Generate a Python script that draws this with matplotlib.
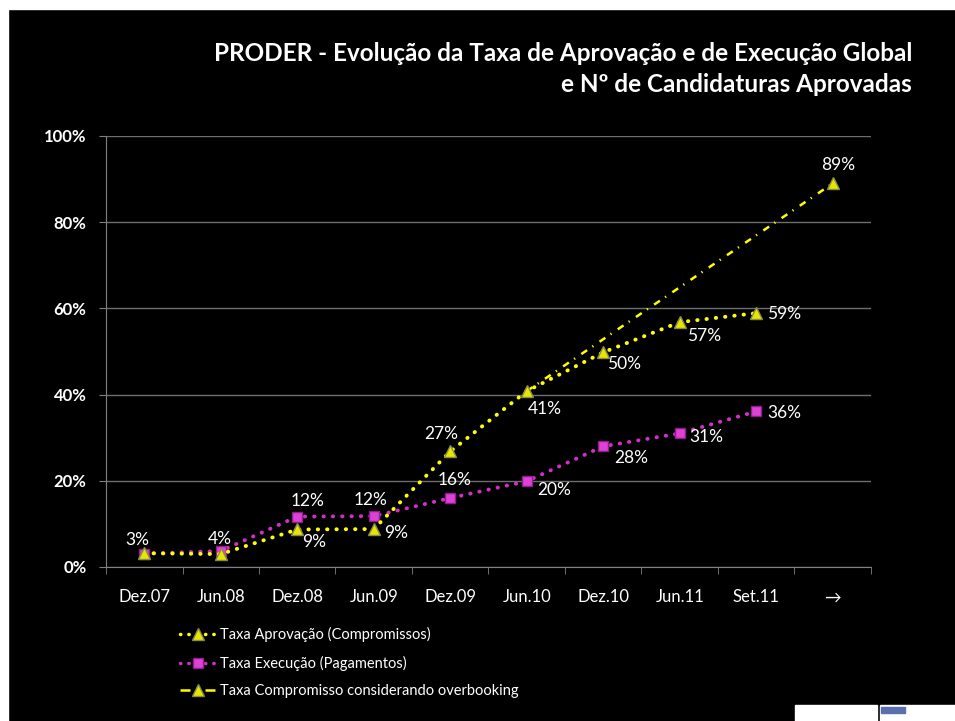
import numpy as np
import matplotlib
matplotlib.use("Agg")
from matplotlib import pyplot as plt
from matplotlib.lines import Line2D
from matplotlib.patches import Rectangle

plt.rcParams['font.family'] = ['Lato', 'DejaVu Sans']

categories = ["Dez.07", "Jun.08", "Dez.08", "Jun.09", "Dez.09", "Jun.10", "Dez.10", "Jun.11", "Set.11", "\u2192"]
aprovacao = [3.2, 3.0, 8.7, 8.8, 26.8, 40.8, 49.8, 56.8, 58.9, np.nan]
execucao = [3.1, 3.7, 11.7, 11.8, 16.0, 19.9, 28.0, 31.0, 36.1, np.nan]
overbooking = [np.nan, np.nan, np.nan, np.nan, np.nan, 40.8, np.nan, np.nan, np.nan, 89.0]

# which points get a label, and label offsets in pixels
aprov_lbl = [None, None, (17, -13), (22, -4), (-9, 17), (18, -18), (21, -12), (24, -14), (28, -1), None]
exec_lbl = [(-7, 14), (-1, 12), (10, 16), (-3, 16), (4, 18), (27, -9), (28, -12), (27, -4), (28, -2), None]
over_lbl = [None] * 9 + [(5, 18)]

YELLOW = "#ffff00"
MAGENTA = "#d22fc8"
DOTS = (0, (0.1, 2.3))

fig = plt.figure(figsize=(9.55, 7.21), dpi=100, facecolor="black")
ax = fig.add_axes([0.111, 0.2136, 0.801, 0.5978])
ax.set_facecolor("black")

x = np.arange(len(categories))

# overbooking line (connect across gaps)
ob = np.array(overbooking)
m = ~np.isnan(ob)
ax.plot(x[m], ob[m], color=YELLOW, lw=1.8, linestyle=(0, (2.8, 2.5, 0.5, 3.0)), zorder=2)
ax.plot(x[m][-1:], ob[m][-1:], linestyle="none", marker="^", ms=9,
        mfc="#e6e600", mec="#8a8a4a", mew=1, zorder=4)

ax.plot(x, execucao, color=MAGENTA, lw=2.8, linestyle=DOTS,
        dash_capstyle="round", marker="s", ms=7.5, mfc="#e040d8", mec="#8a2088", mew=1, zorder=3)
ax.plot(x, aprovacao, color=YELLOW, lw=2.8, linestyle=DOTS,
        dash_capstyle="round", marker="^", ms=9, mfc="#e6e600", mec="#8a8a4a", mew=1, zorder=4)

for vals, lbls in ((aprovacao, aprov_lbl), (execucao, exec_lbl), (overbooking, over_lbl)):
    for i, (v, off) in enumerate(zip(vals, lbls)):
        if off is None or np.isnan(v):
            continue
        ax.annotate(f"{v:.0f}%", (i, v), xytext=(off[0] * 0.72, off[1] * 0.72),
                    textcoords="offset points", ha="center", va="center",
                    color="white", fontsize=12.5, zorder=5)

ax.set_xlim(-0.5, len(categories) - 0.5)
ax.set_ylim(0, 100)
ax.set_yticks(np.arange(0, 101, 20))
ax.set_yticklabels([f"{t}%" for t in range(0, 101, 20)], fontweight="bold", fontsize=12, color="white")
ax.set_xticks(x)
ax.set_xticklabels(categories, fontsize=12, color="white")
ax.set_xticks(np.arange(-0.5, len(categories)), minor=True)
ax.tick_params(axis="x", which="major", length=0, pad=16)
ax.tick_params(axis="x", which="minor", length=5, color="#808080", direction="out")
ax.tick_params(axis="y", length=5, color="#808080", direction="out", pad=9)
ax.yaxis.grid(True, color="#6e6e6e", lw=1)
ax.set_axisbelow(True)
for s in ("top", "right"):
    ax.spines[s].set_visible(False)
for s in ("left", "bottom"):
    ax.spines[s].set_color("#808080")

fig.text(0.955, 0.904, "PRODER - Evolução da Taxa de Aprovação e de Execução Global\ne Nº de Candidaturas Aprovadas",
         ha="right", va="center", color="white", fontsize=17.5, fontweight="bold", linespacing=1.4)

handles = [
    Line2D([], [], color=YELLOW, lw=2.5, linestyle=DOTS, dash_capstyle="round",
           marker="^", ms=8, mfc="#e6e600", mec="#8a8a4a"),
    Line2D([], [], color=MAGENTA, lw=2.5, linestyle=DOTS, dash_capstyle="round",
           marker="s", ms=7, mfc="#e040d8", mec="#8a2088"),
    Line2D([], [], color=YELLOW, lw=1.8, linestyle=(0, (4, 6)),
           marker="^", ms=8, mfc="#e6e600", mec="#8a8a4a"),
]
labels = ["Taxa Aprovação (Compromissos)", "Taxa Execução (Pagamentos)",
          "Taxa Compromisso considerando overbooking"]
leg = fig.legend(handles, labels, loc="upper left", bbox_to_anchor=(0.175, 0.148),
                 frameon=False, fontsize=10.5, labelcolor="white", handlelength=2.4,
                 handletextpad=0.3, labelspacing=0.9)

# white frame bits and logos at the edges
fig.patches.append(Rectangle((0, 0.9875), 1, 0.0125, transform=fig.transFigure, color="white"))
fig.patches.append(Rectangle((0, 0), 0.0085, 1, transform=fig.transFigure, color="white"))
fig.patches.append(Rectangle((0.832, 0), 0.086, 0.022, transform=fig.transFigure, color="white"))
fig.patches.append(Rectangle((0.921, 0), 0.079, 0.022, transform=fig.transFigure, color="white"))
fig.patches.append(Rectangle((0.923, 0.011), 0.025, 0.009, transform=fig.transFigure, color="#5a6fb0"))

fig.savefig("out.png", dpi=100, facecolor="black")
